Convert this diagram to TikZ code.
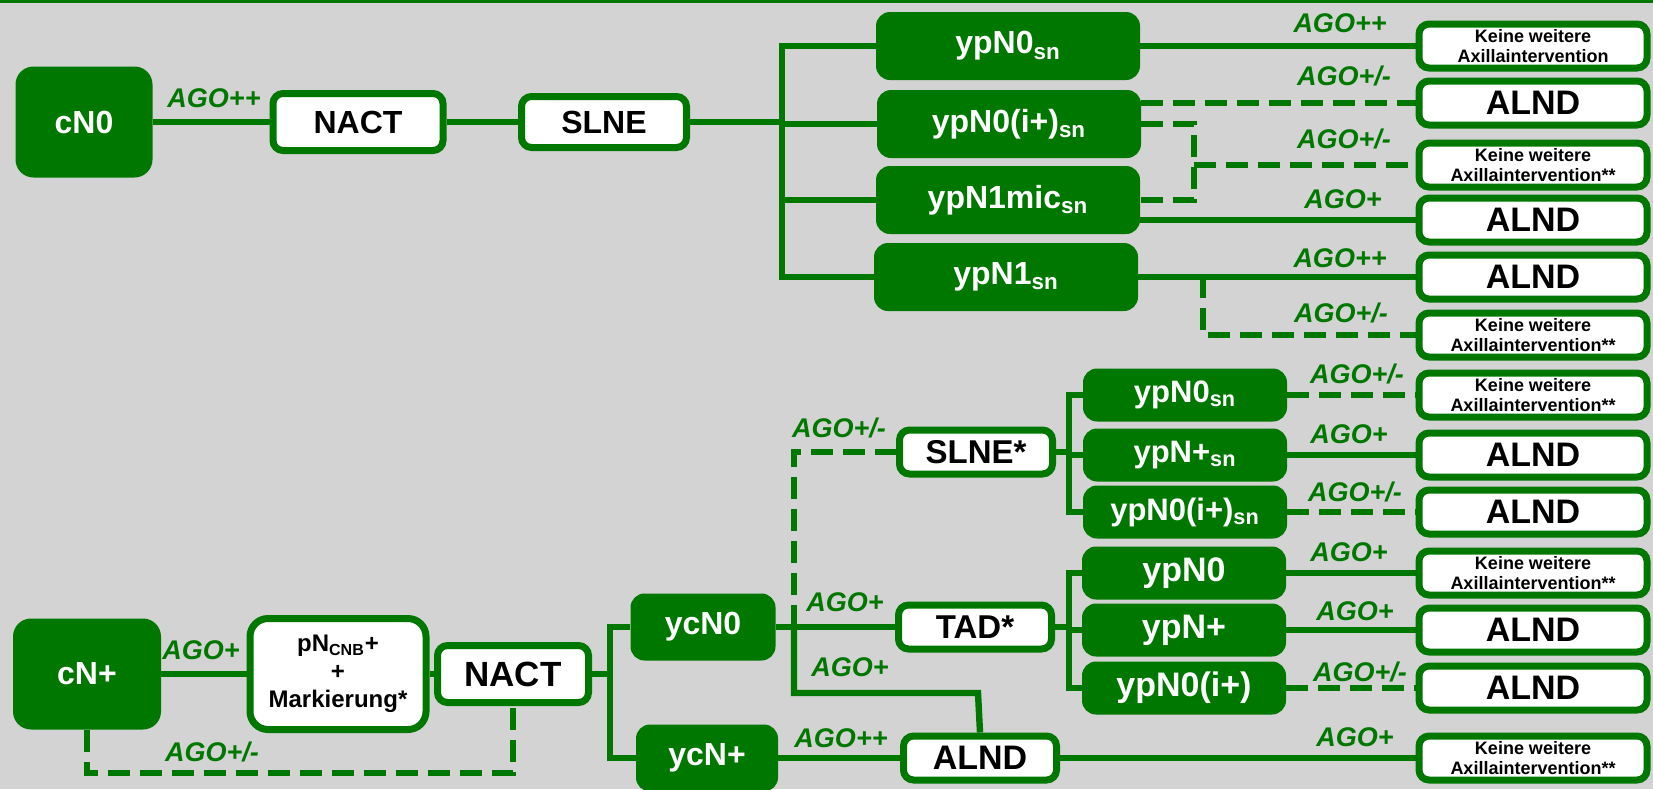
\documentclass[tikz,border=0pt]{standalone}
\usepackage{fontspec}
\setmainfont{Liberation Sans}
\usepackage{tikz}
\usetikzlibrary{calc,positioning}
\definecolor{agogreen}{RGB}{0,120,0}
\definecolor{bggray}{RGB}{211,211,211}
\newcommand{\kw}{Keine weitere\\Axillaintervention}
\newcommand{\sn}{\textsubscript{sn}}

\begin{document}
\begin{tikzpicture}[x=0.5pt, y=-0.5pt,
  gbox/.style={fill=agogreen, text=white, rounded corners=7pt, inner sep=0pt, align=center, font=\fontsize{16}{18}\selectfont\bfseries},
  wbox/.style={draw=agogreen, fill=white, line width=3.5pt, rounded corners=5pt, inner sep=0pt, align=center, font=\fontsize{16.5}{18}\selectfont\bfseries},
  topbox/.style={gbox, minimum width=132pt, minimum height=34pt},
  subbox/.style={gbox, minimum width=102pt, minimum height=26.5pt, font=\fontsize{15.5}{17}\selectfont\bfseries},
  tadbox/.style={subbox, font=\fontsize{17}{19}\selectfont\bfseries},
  midbox/.style={wbox, minimum width=76.5pt, minimum height=22pt},
  rbox/.style={wbox, minimum width=114pt, minimum height=22pt, font=\fontsize{17}{19}\selectfont\bfseries},
  kwbox/.style={rbox, font=\fontsize{9}{9.6}\selectfont\bfseries},
  ago/.style={text=agogreen, inner sep=0pt, font=\fontsize{13.5}{15}\selectfont\bfseries\itshape},
  conn/.style={draw=agogreen, line width=3.2pt},
  dconn/.style={conn, dash pattern=on 11pt off 5pt}]

\fill[bggray] (0,0) rectangle (1653,789);
\useasboundingbox (0,0) rectangle (1653,789);
\draw[agogreen, line width=1.5pt] (0,1.5) -- (1653,1.5);

% upper tree
\node[gbox, minimum width=68.5pt, minimum height=55.5pt, rounded corners=9pt] (cN0) at (84,122) {cN0};
\node[wbox, minimum width=85pt, minimum height=28.5pt, font=\fontsize{16}{18}\selectfont\bfseries] (NACTa) at (358,122) {NACT};
\node[wbox, minimum width=82.5pt, minimum height=25.5pt, font=\fontsize{16}{18}\selectfont\bfseries] (SLNEa) at (604,122) {SLNE};
\node[topbox] (ypA) at (1008,46) {ypN0\sn};
\node[topbox] (ypB) at (1009,124) {ypN0(i+)\sn};
\node[topbox] (ypC) at (1008,200) {ypN1mic\sn};
\node[topbox] (ypD) at (1006,277) {ypN1\sn};

\node[kwbox] (KWa) at (1533,46) {\kw};
\node[rbox] (ALNDa) at (1533,103) {ALND};
\node[kwbox] (KWb) at (1533,165) {\kw**};
\node[rbox] (ALNDb) at (1533,220) {ALND};
\node[rbox] (ALNDc) at (1533,277) {ALND};
\node[kwbox] (KWc) at (1533,335) {\kw**};

\coordinate (tA) at (782,122);
\coordinate (dA) at (1194,165);
\coordinate (dB) at (1203,277);

\draw[conn] (cN0) -- (NACTa);
\draw[conn] (NACTa) -- (SLNEa);
\draw[conn] (SLNEa) -- (tA);
\draw[conn] (ypA.west) -| (tA) |- (ypD.west);
\draw[conn] (tA |- ypB.west) -- (ypB.west);
\draw[conn] (tA |- ypC.west) -- (ypC.west);
\draw[conn] (ypA) -- (KWa);
\draw[dconn] (ALNDa.west -| ypB.east) -- (ALNDa.west);
\draw[dconn] (ypB.east) -| (dA) |- (ypC.east);
\draw[dconn] (dA) -- (KWb.west);
\draw[conn] (ALNDb.west -| ypC.east) -- (ALNDb.west);
\draw[conn] (ypD) -- (ALNDc);
\draw[dconn] (ypD.east) -- (dB) |- (KWc.west);

\node[ago] (g1) at (214,98) {AGO++};
\node[ago] (g2) at (1340,23) {AGO++};
\node[ago] (g3) at (1344,76) {AGO+/-};
\node[ago] (g4) at (1344,139) {AGO+/-};
\node[ago] (g5) at (1343,199) {AGO+};
\node[ago] (g6) at (1340,258) {AGO++};
\node[ago] (g7) at (1341,313) {AGO+/-};

% lower tree
\node[gbox, minimum width=74pt, minimum height=55.5pt, rounded corners=9pt] (cNp) at (87,674) {cN+};
\node[wbox, minimum width=88pt, minimum height=55.5pt, rounded corners=9pt, font=\fontsize{12}{14}\selectfont\bfseries] (pN) at (338,674) {pN\textsubscript{CNB}+\\+\\Markierung*};
\node[wbox, minimum width=75.5pt, minimum height=28.5pt, font=\fontsize{17.5}{19}\selectfont\bfseries] (NACTb) at (513,674) {NACT};
\node[gbox, minimum width=72.5pt, minimum height=33.5pt] (ycN0) at (703,627) {ycN0};
\node[gbox, minimum width=71pt, minimum height=33.5pt] (ycNp) at (707,758) {ycN+};
\node[midbox] (SLNEb) at (976,452) {SLNE*};
\node[midbox] (TAD) at (975,627) {TAD*};
\node[midbox, font=\fontsize{17}{19}\selectfont\bfseries] (ALNDd) at (980,758) {ALND};

\node[subbox] (spA) at (1185,395) {ypN0\sn};
\node[subbox] (spB) at (1185,455) {ypN+\sn};
\node[subbox] (spC) at (1185,512) {ypN0(i+)\sn};
\node[tadbox] (tpA) at (1184,573) {ypN0};
\node[tadbox] (tpB) at (1184,630) {ypN+};
\node[tadbox] (tpC) at (1184,688) {ypN0(i+)};

\node[kwbox] (KWd) at (1533,395) {\kw**};
\node[rbox] (ALNDe) at (1533,455) {ALND};
\node[rbox] (ALNDf) at (1533,512) {ALND};
\node[kwbox] (KWe) at (1533,573) {\kw**};
\node[rbox] (ALNDg) at (1533,630) {ALND};
\node[rbox] (ALNDh) at (1533,688) {ALND};
\node[kwbox] (KWf) at (1533,758) {\kw**};

\coordinate (tB) at (610,674);
\coordinate (jA) at (794,627);
\coordinate (jB) at (978,693);
\coordinate (tC) at (1069,452);
\coordinate (tD) at (1069,627);
\coordinate (dC) at (87,773);

\draw[conn] (cNp) -- (pN);
\draw[conn] (pN) -- (NACTb);
\draw[dconn] (cNp.south) -- (dC) -| (NACTb.south);
\draw[conn] (NACTb) -- (tB);
\draw[conn] (ycN0.west) -| (tB) |- (ycNp.west);
\draw[conn] (ycN0) -- (TAD);
\draw[dconn] (jA) |- (SLNEb.west);
\draw[conn] (jA) |- (jB) -- (ALNDd.north);
\draw[conn] (ycNp) -- (ALNDd);
\draw[conn] (ALNDd) -- (KWf);
\draw[conn] (SLNEb) -- (tC);
\draw[conn] (spA.west) -| (tC) |- (spC.west);
\draw[conn] (tC |- spB.west) -- (spB.west);
\draw[conn] (TAD) -- (tD);
\draw[conn] (tpA.west) -| (tD) |- (tpC.west);
\draw[conn] (tD |- tpB.west) -- (tpB.west);
\draw[dconn] (spA) -- (KWd);
\draw[conn] (spB) -- (ALNDe);
\draw[dconn] (spC) -- (ALNDf);
\draw[conn] (tpA) -- (KWe);
\draw[conn] (tpB) -- (ALNDg);
\draw[dconn] (tpC) -- (ALNDh);

\node[ago] (h1) at (201,650) {AGO+};
\node[ago] (h2) at (212,752) {AGO+/-};
\node[ago] (h3) at (839,428) {AGO+/-};
\node[ago] (h4) at (845,602) {AGO+};
\node[ago] (h5) at (850,667) {AGO+};
\node[ago] (h6) at (841,738) {AGO++};
\node[ago] (h7) at (1357,374) {AGO+/-};
\node[ago] (h8) at (1349,434) {AGO+};
\node[ago] (h9) at (1355,492) {AGO+/-};
\node[ago] (h10) at (1349,552) {AGO+};
\node[ago] (h11) at (1355,611) {AGO+};
\node[ago] (h12) at (1360,672) {AGO+/-};
\node[ago] (h13) at (1355,737) {AGO+};
\end{tikzpicture}
\end{document}
